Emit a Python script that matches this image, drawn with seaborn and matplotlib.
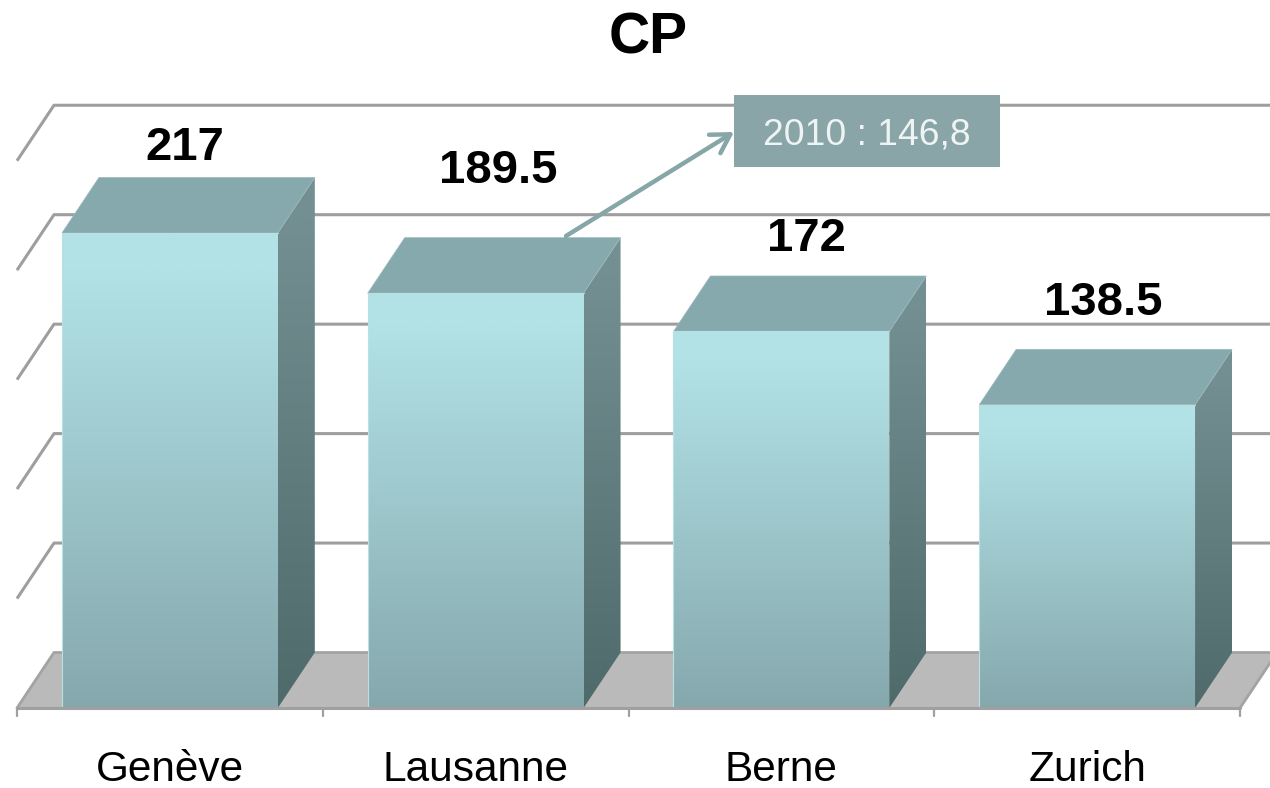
import numpy as np
import pandas as pd
import matplotlib
matplotlib.use('Agg')
import matplotlib.pyplot as plt
from matplotlib.colors import LinearSegmentedColormap
from matplotlib.patches import Polygon
import seaborn as sns

cities = ['Genève', 'Lausanne', 'Berne', 'Zurich']
values = [217, 189.5, 172, 138.5]
value_labels = ['217', '189.5', '172', '138.5']
gridlines = [0, 50, 100, 150, 200, 250]
note_text = '2010 : 146,8'

sns.set_theme(style='white')
plt.rcParams['font.family'] = ['Liberation Sans', 'DejaVu Sans']

df = pd.DataFrame({'city': cities, 'value': values})

W, H = 1270, 788
fig = plt.figure(figsize=(W / 100, H / 100), dpi=100)
ax = fig.add_axes([0, 0, 1, 1])
ax.patch.set_alpha(0)

# pixel layout of the slide: baseline at 708, 2.189 px per unit, 305.75 px per category
xlim = (-0.5 - 17 / 305.75, -0.5 + (W - 17) / 305.75)
ylim = ((708 - H) / 2.189, 708 / 2.189)
dx = 37 / 305.75   # depth of the fake 3d
dy = 55.5 / 2.189

sns.barplot(data=df, x='city', y='value', ax=ax, width=0.706, color='#a0c8cc',
            saturation=1, zorder=3)
ax.set_xlim(xlim)
ax.set_ylim(ylim)
ax.set_xlabel('')
ax.set_ylabel('')
ax.set_yticks([])
ax.set_xticks([])
for s in ax.spines.values():
    s.set_visible(False)

left, right = -0.5, 3.5

# floor
ax.add_patch(Polygon([(left, 0), (left + dx, dy), (xlim[1] + 1, dy), (right + dx, dy), (right, 0)],
                     closed=True, fc='#bbbaba', ec='none', zorder=1))
ax.plot([left, left + dx, xlim[1]], [0, dy, dy], color='#a3a3a3', lw=2, zorder=1.5)
ax.plot([right, right + dx], [0, dy], color='#a3a3a3', lw=2, zorder=1.5)

# back wall lines and the left slants
for g in gridlines[1:]:
    ax.plot([left, left + dx, xlim[1]], [g, g + dy, g + dy], color='#9e9e9e', lw=2.2,
            zorder=1, solid_capstyle='butt')


def shade(poly, top, bottom, ymin, ymax, z):
    cmap = LinearSegmentedColormap.from_list('g', [(0, bottom), (0.92, top), (1, top)])
    grad = np.linspace(0, 1, 256).reshape(-1, 1)
    xs = [p[0] for p in poly]
    im = ax.imshow(grad, origin='lower', aspect='auto', cmap=cmap, zorder=z,
                   extent=(min(xs), max(xs), ymin, ymax), interpolation='bilinear')
    patch = Polygon(poly, closed=True, fc='none', ec='none', transform=ax.transData)
    ax.add_patch(patch)
    im.set_clip_path(patch)


for bar, val in zip(ax.patches[:4], values):
    x0 = bar.get_x()
    x1 = x0 + bar.get_width()
    bar.set_edgecolor('none')
    shade([(x0, 0), (x1, 0), (x1, val), (x0, val)], '#b2e2e6', '#85a8ad', 0, val, 3.2)
    shade([(x1, 0), (x1 + dx, dy), (x1 + dx, val + dy), (x1, val)], '#738f91', '#4f6a6b',
          0, val + dy, 3.1)
    ax.add_patch(Polygon([(x0, val), (x0 + dx, val + dy), (x1 + dx, val + dy), (x1, val)],
                         closed=True, fc='#85a9ad', ec='#9dbabd', lw=0.5, zorder=3.3))
    ax.plot([x0, x0, x1], [0, val, val], color='#b9e0e3', lw=0.8, zorder=3.4)

ax.set_xlim(xlim)
ax.set_ylim(ylim)

# category axis
ax.plot([left, right], [0, 0], color='#a0a0a0', lw=2.2, zorder=3.5)
for t in range(5):
    ax.plot([left + t, left + t], [0, -3.8], color='#a0a0a0', lw=1.6, zorder=3.5)

for i, name in enumerate(cities):
    ax.text(i, -28.1, name, ha='center', va='center', fontsize=30.5, color='black')

# value labels sit by hand above each block, like in the slide
label_shift = [(15, 85), (23, 122), (25, 92), (16, 102)]
for i, (txt, val) in enumerate(zip(value_labels, values)):
    ax.annotate(txt, (i, val), xytext=label_shift[i], textcoords='offset pixels',
                ha='center', va='center', fontsize=34, fontweight='bold', color='black',
                zorder=6)

fig.text(648 / W, 1 - 39 / H, 'CP', ha='center', va='center', fontsize=41,
         fontweight='bold', color='black')

# note box with arrow
fig.patches.append(plt.Rectangle((734 / W, 1 - 167 / H), 266 / W, 72 / H, fc='#8aa5a8', ec='none',
                                 transform=fig.transFigure, zorder=5))
fig.text(867 / W, 1 - 135 / H, note_text, ha='center', va='center', fontsize=26.8,
         color='#eef4f4', zorder=6)
ax.annotate('', xy=(734, H - 132), xytext=(566, H - 236), xycoords='figure pixels',
            textcoords='figure pixels', zorder=6,
            arrowprops=dict(arrowstyle='->,head_length=1.1,head_width=0.65', color='#86a6a8',
                            lw=3.2, shrinkA=0, shrinkB=0))

fig.savefig('out.png', dpi=100)
